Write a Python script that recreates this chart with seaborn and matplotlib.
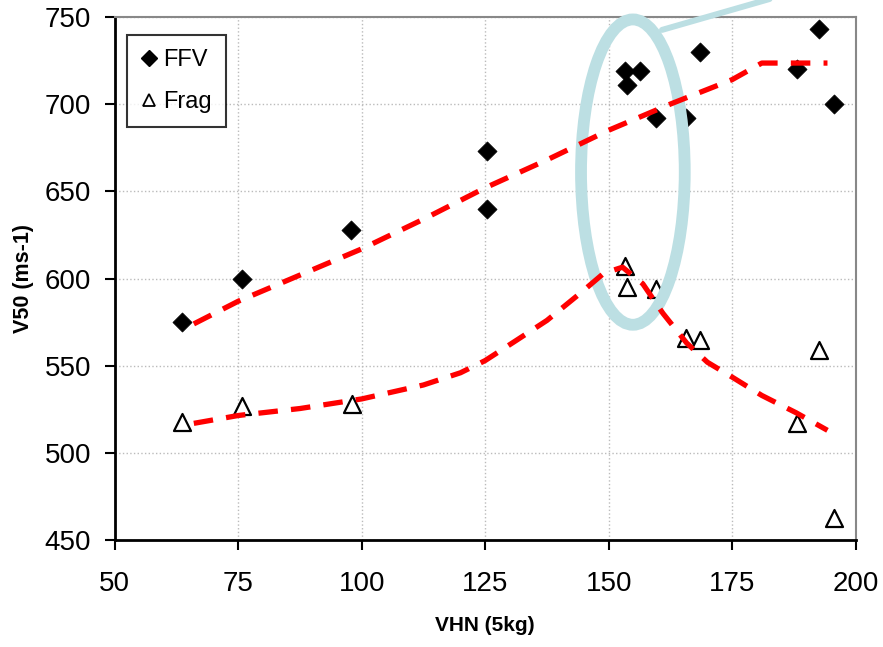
import matplotlib
matplotlib.use("Agg")
import matplotlib.pyplot as plt
from matplotlib.lines import Line2D
from matplotlib.patches import Ellipse
import seaborn as sns
import pandas as pd

# Measured ballistic limit (V50) against Vickers hardness
ffv_vhn = [63.6, 75.7, 97.8, 125.3, 125.3, 153.4, 153.8, 156.3, 159.5, 165.6, 168.4, 188.1, 192.5, 195.7]
ffv_v50 = [575, 600, 628, 673, 640, 719, 711, 719, 692, 692, 730, 720, 743, 700]

frag_vhn = [63.6, 75.7, 98.0, 153.4, 153.8, 159.5, 165.6, 168.4, 188.1, 192.5, 195.7]
frag_v50 = [518, 527, 528, 607, 595, 594, 566, 565, 517, 559, 463]

# Hand-fitted trend curves
ffv_trend_vhn = [66, 75, 87.5, 100, 112.5, 125, 137.5, 150, 162.5, 175, 181, 194.3]
ffv_trend_v50 = [574, 587, 602, 617, 634, 652, 668, 685, 700, 714, 723.5, 723.5]

frag_trend_vhn = [66, 75, 87.5, 100, 112.5, 120, 125, 131, 137.5, 144, 149, 152.8, 156.9, 161, 165.8, 170, 175, 181, 188, 194.3]
frag_trend_v50 = [517, 521.5, 525.5, 531, 539, 546, 553, 564, 576, 591, 603, 606.5, 597, 580, 563, 552, 543.5, 533, 523, 513]

x_ticks = [50, 75, 100, 125, 150, 175, 200]
y_ticks = [450, 500, 550, 600, 650, 700, 750]

sns.set_theme(style="white")
plt.rcParams["font.family"] = ["Liberation Sans", "DejaVu Sans"]
plt.rcParams.update({
    "text.color": "black",
    "axes.labelcolor": "black",
    "xtick.color": "black",
    "ytick.color": "black",
})

fig = plt.figure(figsize=(8.83, 6.47), dpi=100)
ax = fig.add_axes([0.130, 0.165, 0.839, 0.809])

ffv = pd.DataFrame({"VHN": ffv_vhn, "V50": ffv_v50})
frag = pd.DataFrame({"VHN": frag_vhn, "V50": frag_v50})
ffv_t = pd.DataFrame({"VHN": ffv_trend_vhn, "V50": ffv_trend_v50})
frag_t = pd.DataFrame({"VHN": frag_trend_vhn, "V50": frag_trend_v50})

sns.scatterplot(data=ffv, x="VHN", y="V50", marker="D", s=95, color="black",
                edgecolor="black", linewidth=0.5, ax=ax, zorder=3)
sns.scatterplot(data=frag, x="VHN", y="V50", marker="^", s=150, facecolor="white",
                edgecolor="black", linewidth=1.6, ax=ax, zorder=3)

# highlight ring around the cluster near 155 VHN
ring = Ellipse((154.9, 661), width=21, height=175, fill=False,
               edgecolor="#bcdfe3", linewidth=8.5, zorder=4, clip_on=False)
ax.add_patch(ring)
ax.add_line(Line2D([160.8, 186], [742.5, 763], color="#bcdfe3", linewidth=4.3,
                   clip_on=False, zorder=4))

for df in (ffv_t, frag_t):
    sns.lineplot(data=df, x="VHN", y="V50", sort=False, estimator=None,
                 color="#ff0000", linewidth=3.8, ax=ax, zorder=5)
for ln in ax.get_lines()[-2:]:
    ln.set_linestyle((0, (3.7, 2.5)))
    ln.set_dash_capstyle("butt")

ax.set_xlim(50, 200)
ax.set_ylim(450, 750)
ax.set_xticks(x_ticks)
ax.set_yticks(y_ticks)
ax.tick_params(axis="both", labelsize=20, direction="out", length=7, width=1.5,
               color="black", bottom=True, left=True, labelcolor="black")
ax.tick_params(axis="x", pad=15)
ax.tick_params(axis="y", pad=10)
ax.grid(True, color="#bbbbbb", linestyle=":", linewidth=1.0)
ax.set_axisbelow(True)

for side in ("left", "bottom"):
    ax.spines[side].set_color("black")
    ax.spines[side].set_linewidth(2)
for side in ("top", "right"):
    ax.spines[side].set_color("#888888")
    ax.spines[side].set_linewidth(1.5)

ax.set_xlabel("VHN (5kg)", fontsize=15, fontweight="bold", labelpad=14)
ax.set_ylabel("V50 (ms-1)", fontsize=15.5, fontweight="bold", labelpad=8)

handles = [
    Line2D([], [], marker="D", color="black", linestyle="none", markersize=8),
    Line2D([], [], marker="^", markerfacecolor="white", markeredgecolor="black",
           markeredgewidth=1.3, linestyle="none", markersize=8),
]
leg = ax.legend(handles, ["FFV", "Frag"], loc="upper left", bbox_to_anchor=(0.017, 0.966),
                fontsize=17, frameon=True, fancybox=False, handlelength=0.6,
                handletextpad=0.3, borderpad=0.6, labelspacing=0.85, borderaxespad=0)
leg.get_frame().set_edgecolor("black")
leg.get_frame().set_linewidth(1.5)

fig.savefig("out.png", dpi=100)
